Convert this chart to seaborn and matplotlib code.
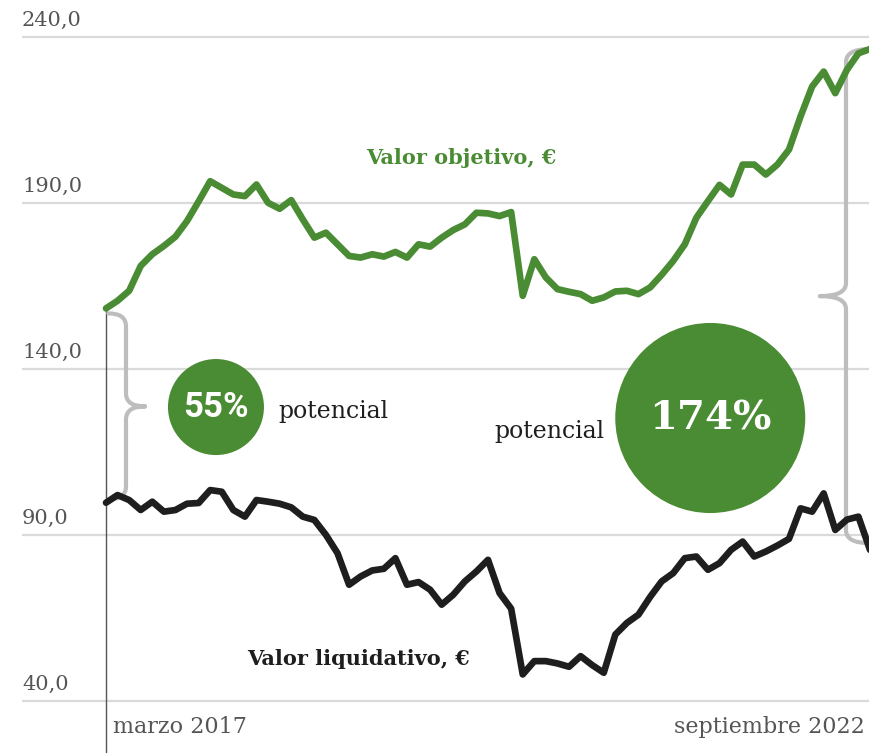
import numpy as np
import pandas as pd
import matplotlib.pyplot as plt
import seaborn as sns
from matplotlib.patches import Ellipse, PathPatch
from matplotlib.path import Path

sns.set_style("white")

# monthly values, marzo 2017 -> septiembre 2022
months = np.arange(67)
valor_objetivo = [158.2, 160.5, 163.5, 171.0, 174.5, 177.0, 179.8, 184.5, 190.4, 196.5,
                  194.5, 192.5, 192.0, 195.5, 190.0, 188.2, 190.8, 185.0, 179.5, 181.0,
                  177.5, 174.0, 173.5, 174.5, 173.8, 175.2, 173.5, 177.5, 176.8, 179.5,
                  181.8, 183.5, 187.0, 186.8, 186.0, 187.2, 162.0, 173.0, 167.5, 164.0,
                  163.2, 162.5, 160.5, 161.5, 163.3, 163.5, 162.5, 164.5, 168.3, 172.5,
                  177.5, 185.5, 190.5, 195.4, 192.5, 201.5, 201.5, 198.5, 201.5, 206.0,
                  216.0, 225.0, 229.5, 223.0, 230.0, 235.0, 236.3]
valor_liquidativo = [99.7, 102.0, 100.5, 97.5, 100.0, 97.0, 97.5, 99.4, 99.6, 103.5,
                     103.0, 97.5, 95.5, 100.5, 100.0, 99.4, 98.3, 95.5, 94.5, 90.0,
                     84.5, 75.0, 77.5, 79.3, 79.8, 83.0, 75.0, 75.8, 73.5, 69.0,
                     72.0, 76.0, 79.0, 82.5, 72.5, 67.8, 48.0, 52.0, 52.0, 51.3,
                     50.3, 53.5, 50.8, 48.5, 60.0, 63.5, 66.0, 71.3, 76.0, 78.5,
                     83.0, 83.5, 79.5, 81.5, 85.5, 88.0, 83.5, 85.0, 86.8, 88.8,
                     98.0, 97.0, 102.5, 91.5, 94.6, 95.5, 85.5]
yticks = [40, 90, 140, 190, 240]
ytick_labels = ["40,0", "90,0", "140,0", "190,0", "240,0"]
date_labels = ["marzo 2017", "septiembre 2022"]
potencial_labels = ["55%", "174%"]

GREEN = "#4a8c33"
BLACK = "#1e1e1e"
BRACE = "#bdbdbd"
SLAB = ["DejaVu Serif"]

fig = plt.figure(figsize=(8.7, 7.53), dpi=100)
ax = fig.add_axes([22 / 870, 0, 848 / 870, 1])
px_x = 764 / 66          # pixels per month
px_y = 664 / 200         # pixels per euro
ax.set_xlim(-84 / px_x, 66)
ax.set_ylim(40 - 52 / px_y, 240 + 36.7 / px_y)
ax.set_axis_off()

for t, lbl in zip(yticks, ytick_labels):
    ax.axhline(t, color="#dadada", lw=1.6, zorder=0)
    ax.annotate(lbl, xy=(0, t), xycoords=("axes fraction", "data"), xytext=(0, 5),
                textcoords="offset points", ha="left", va="bottom",
                fontsize=15, color="#555555", family=SLAB)

ax.plot([0, 0], [ax.get_ylim()[0], valor_objetivo[0]], color="#555555", lw=1, zorder=1)

sns.lineplot(x=months, y=valor_objetivo, ax=ax, color=GREEN, lw=4.8,
             solid_capstyle="round", solid_joinstyle="round", zorder=4)
sns.lineplot(x=months, y=valor_liquidativo, ax=ax, color=BLACK, lw=4.8,
             solid_capstyle="round", solid_joinstyle="round", zorder=4)


def brace(x_arm, xv, xt, y_top, y_bot):
    ym = (y_top + y_bot) / 2
    ry = 13 / px_y
    verts = [(x_arm, y_top), (xv, y_top), (xv, y_top - ry), (xv, ym + ry), (xv, ym), (xt, ym),
             (xt, ym), (xv, ym), (xv, ym - ry), (xv, y_bot + ry), (xv, y_bot), (x_arm, y_bot)]
    codes = [Path.MOVETO, Path.CURVE3, Path.CURVE3, Path.LINETO, Path.CURVE3, Path.CURVE3,
             Path.MOVETO, Path.CURVE3, Path.CURVE3, Path.LINETO, Path.CURVE3, Path.CURVE3]
    ax.add_patch(PathPatch(Path(verts, codes), fill=False, ec=BRACE, lw=3,
                           capstyle="round", zorder=3))


brace(0.2, 20 / px_x, 39 / px_x, valor_objetivo[0] - 1.5, valor_liquidativo[0] + 1)
brace(66, 66 - 24 / px_x, 66 - 50 / px_x, valor_objetivo[-1], valor_liquidativo[-1] + 2)

# potencial circles
for (cx, cy, r), lbl, fp in zip([(9.5, 128.5, 48), (52.2, 125.2, 95)], potencial_labels,
                                [dict(fontsize=25, family="Roboto", weight="bold"),
                                 dict(fontsize=29, family=SLAB, weight="bold")]):
    ax.add_patch(Ellipse((cx, cy), 2 * r / px_x, 2 * r / px_y, color=GREEN, lw=0, zorder=2))
    ax.text(cx, cy, lbl, ha="center", va="center", color="white", zorder=5, **fp)

ax.text(14.85, 127.3, "potencial", ha="left", va="center", fontsize=17,
        color=BLACK, family=SLAB)
ax.text(43.1, 121.0, "potencial", ha="right", va="center", fontsize=17,
        color=BLACK, family=SLAB)

ax.text(30.66, 203.5, "Valor objetivo, €", ha="center", va="center", fontsize=15,
        color=GREEN, weight="bold", family=SLAB)
ax.text(21.8, 52.7, "Valor liquidativo, €", ha="center", va="center", fontsize=15,
        color=BLACK, weight="bold", family=SLAB)

ax.annotate(date_labels[0], xy=(0, 40), xytext=(5, -19), textcoords="offset points",
            ha="left", va="center", fontsize=16, color="#555555", family=SLAB)
ax.annotate(date_labels[1], xy=(66, 40), xytext=(-4, -19), textcoords="offset points",
            ha="right", va="center", fontsize=16, color="#555555", family=SLAB)

fig.savefig("out.png", dpi=100)
